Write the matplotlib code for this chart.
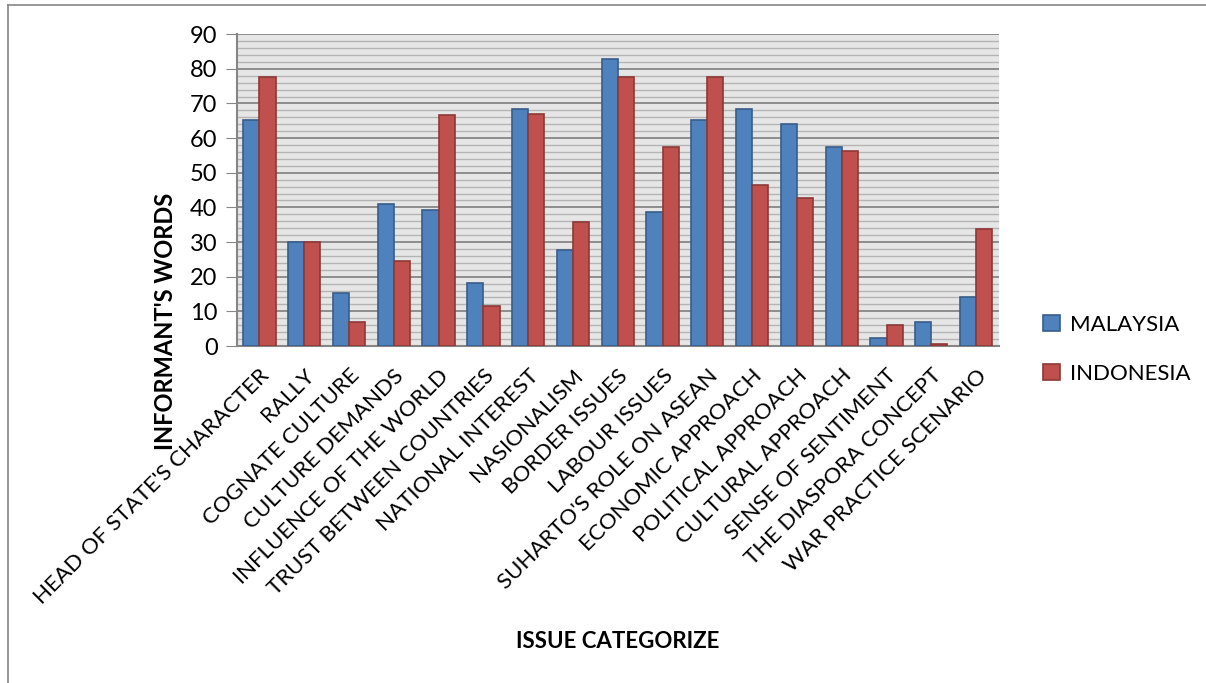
#!/usr/bin/env python3
import matplotlib
matplotlib.use('Agg')
import matplotlib.pyplot as plt
import numpy as np
from matplotlib.lines import Line2D

categories = [
    "HEAD OF STATE'S CHARACTER", "RALLY", "COGNATE CULTURE", "CULTURE DEMANDS",
    "INFLUENCE OF THE WORLD", "TRUST BETWEEN COUNTRIES", "NATIONAL INTEREST",
    "NASIONALISM", "BORDER ISSUES", "LABOUR ISSUES", "SUHARTO'S ROLE ON ASEAN",
    "ECONOMIC APPROACH", "POLITICAL APPROACH", "CULTURAL APPROACH",
    "SENSE OF SENTIMENT", "THE DIASPORA CONCEPT", "WAR PRACTICE SCENARIO",
]
malaysia = [65.1, 30.0, 15.3, 41.0, 39.2, 18.2, 68.3, 27.6, 82.8, 38.8,
            65.1, 68.3, 64.2, 57.5, 2.2, 7.0, 14.0]
indonesia = [77.6, 30.0, 7.0, 24.6, 66.8, 11.5, 67.0, 35.8, 77.6, 57.5,
             77.6, 46.5, 42.6, 56.3, 6.1, 0.5, 33.8]

plt.rcParams['font.family'] = ['Lato', 'DejaVu Sans']

fig = plt.figure(figsize=(12.06, 6.83), dpi=100)
ax = fig.add_axes([0.1965, 0.4934, 0.6315, 0.4566])
ax.set_facecolor('#e6e6e6')

x = np.arange(len(categories))
w = 0.36
ax.bar(x - w / 2, malaysia, w, color='#4f81bd', edgecolor='#385d8a',
       linewidth=1.2, label='MALAYSIA', zorder=3)
ax.bar(x + w / 2, indonesia, w, color='#c0504d', edgecolor='#8c3836',
       linewidth=1.2, label='INDONESIA', zorder=3)

ax.set_xlim(-0.5, len(categories) - 0.5)
ax.set_ylim(0, 90)
ax.set_yticks(range(0, 91, 10))
ax.set_yticks(np.arange(0, 90, 2), minor=True)
ax.grid(True, which='major', axis='y', color='#868686', linewidth=1.3, zorder=0)
ax.grid(True, which='minor', axis='y', color='#b4b4b4', linewidth=1.0, zorder=0)
ax.tick_params(axis='y', which='minor', length=0)
ax.tick_params(axis='y', which='major', length=8, color='#868686',
               labelsize=17, pad=6)

ax.set_xticks(x)
ax.set_xticklabels(categories, rotation=45, ha='right',
                   rotation_mode='anchor', fontsize=16)
ax.tick_params(axis='x', length=0, pad=14)

for s in ['top', 'right']:
    ax.spines[s].set_visible(False)
for s in ['left', 'bottom']:
    ax.spines[s].set_color('#868686')
    ax.spines[s].set_linewidth(1.5)

# axis titles
fig.text(0.137, 0.530, "INFORMANT'S WORDS", fontsize=17, fontweight='bold',
         rotation=90, ha='center', va='center')
fig.text(0.512, 0.061, 'ISSUE CATEGORIZE', fontsize=16, fontweight='bold',
         ha='center', va='center')

ax.legend(loc='center left', bbox_to_anchor=(1.032, -0.01), frameon=False,
          fontsize=16, handlelength=0.75, handleheight=0.75, labelspacing=1.3,
          handletextpad=0.45)

# outer chart border (top and left)
fig.add_artist(Line2D([0.0066, 1.0], [0.993, 0.993], color='#868686',
                      linewidth=1.2, transform=fig.transFigure))
fig.add_artist(Line2D([0.0066, 0.0066], [0.0, 0.993], color='#868686',
                      linewidth=1.2, transform=fig.transFigure))

plt.savefig('out.png', dpi=100)
